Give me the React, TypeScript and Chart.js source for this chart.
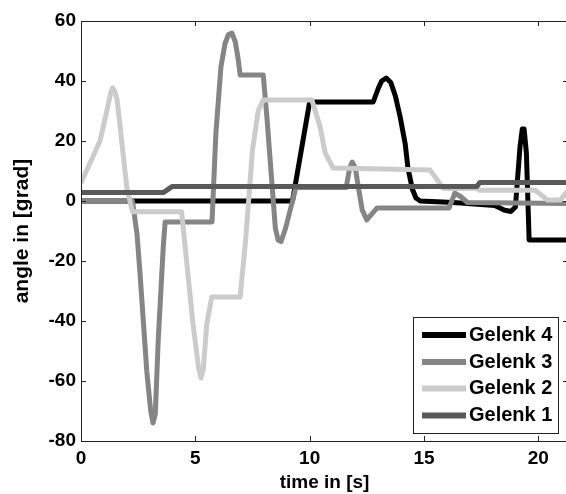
import React, { useEffect, useRef } from 'react';
import { Chart, registerables } from 'chart.js';

Chart.register(...registerables);

// ---- data (time in s, angle in grad) ----
const xTickValues = [0, 5, 10, 15, 20];
const yTickValues = [-80, -60, -40, -20, 0, 20, 40, 60];
const xMin = 0;
const xMax = 21.3;
const yMin = -80;
const yMax = 60;

const legendOrder = ['Gelenk 4', 'Gelenk 3', 'Gelenk 2', 'Gelenk 1'];

const gelenk4T = [0, 9.25, 10.0, 12.78, 13.0, 13.15, 13.35, 13.55, 13.75, 13.96, 14.18, 14.3, 14.49, 14.65, 14.84, 16.3, 18.1, 18.5, 18.8, 19.0, 19.2, 19.3, 19.38, 19.48, 19.6, 21.3];
const gelenk4V = [0, 0, 33, 33, 37.5, 40, 41, 39.5, 35, 28, 19, 11, 4, 1, 0, -0.5, -1.5, -3, -3.5, -2, 18, 24, 24, 16, -13, -13];

const gelenk3T = [0, 2.25, 2.45, 2.58, 2.88, 3.05, 3.15, 3.25, 3.38, 3.6, 3.68, 5.73, 5.9, 6.12, 6.3, 6.45, 6.6, 6.75, 6.88, 6.96, 7.97, 8.13, 8.35, 8.5, 8.62, 8.75, 8.95, 9.15, 9.4, 11.6, 11.75, 11.86, 12.0, 12.1, 12.3, 12.5, 12.95, 16.1, 16.35, 16.6, 16.9, 21.3];
const gelenk3V = [0, 0, -11, -24, -57, -70, -74, -71, -46, -15, -7, -7, 22.6, 44.7, 52.5, 55.5, 56, 53, 47, 42, 42, 28, 6, -9, -13, -13.5, -9, -3, 4.5, 4.5, 11, 13, 11, 6, -3, -6.3, -2.3, -2.3, 2.6, 1.5, -0.5, -0.8];

const gelenk2T = [0, 0.83, 1.13, 1.3, 1.39, 1.48, 1.58, 1.78, 2.0, 2.25, 4.4, 4.55, 4.9, 5.15, 5.25, 5.35, 5.5, 5.72, 6.96, 7.2, 7.5, 7.75, 7.97, 10.1, 10.46, 10.68, 11.03, 15.27, 15.85, 17.3, 17.45, 19.87, 20.4, 20.96, 21.3];
const gelenk2V = [6, 20, 30, 36, 37.7, 36.5, 33.7, 20, 4.7, -3.6, -3.6, -15, -41, -56, -59, -56, -41, -32, -32, -13, 17, 30, 33.7, 33.7, 24.7, 16, 11, 10.3, 4.2, 4.2, 3.6, 3.6, 0.3, 0.3, 3.5];

const gelenk1T = [0, 3.6, 3.98, 17.3, 17.45, 21.3];
const gelenk1V = [2.8, 2.8, 4.8, 4.8, 6.2, 6.2];

const seriesColors: Record<string, string> = {
  'Gelenk 4': '#000000',
  'Gelenk 3': '#858585',
  'Gelenk 2': '#cbcbcb',
  'Gelenk 1': '#595959',
};

const toPoints = (t: number[], v: number[]) => t.map((x, i) => ({ x, y: v[i] }));

const FONT_FAMILY = '"Liberation Sans", Arial, Helvetica, sans-serif';

const framePlugin = {
  id: 'matlabFrame',
  afterDatasetsDraw(chart: any) {
    const { ctx, chartArea } = chart;
    const { left, right, top, bottom } = chartArea;
    const xs = chart.scales.x;
    const ys = chart.scales.y;
    ctx.save();
    ctx.strokeStyle = '#222';
    ctx.lineWidth = 1;
    ctx.beginPath();
    ctx.rect(Math.round(left) + 0.5, Math.round(top) + 0.5, Math.round(right - left), Math.round(bottom - top));
    ctx.stroke();
    const tl = 5;
    ctx.beginPath();
    xTickValues.forEach((v) => {
      const px = Math.round(xs.getPixelForValue(v)) + 0.5;
      ctx.moveTo(px, bottom);
      ctx.lineTo(px, bottom - tl);
      ctx.moveTo(px, top);
      ctx.lineTo(px, top + tl);
    });
    yTickValues.forEach((v) => {
      const py = Math.round(ys.getPixelForValue(v)) + 0.5;
      ctx.moveTo(left, py);
      ctx.lineTo(left + tl, py);
      ctx.moveTo(right, py);
      ctx.lineTo(right - tl, py);
    });
    ctx.stroke();
    ctx.restore();
  },
};

const legendPlugin = {
  id: 'insideLegend',
  afterDraw(chart: any) {
    const { ctx } = chart;
    const boxL = 413, boxT = 317, boxR = 558, boxB = 433;
    ctx.save();
    ctx.fillStyle = '#ffffff';
    ctx.fillRect(boxL, boxT, boxR - boxL, boxB - boxT);
    ctx.strokeStyle = '#222';
    ctx.lineWidth = 1;
    ctx.strokeRect(boxL + 0.5, boxT + 0.5, boxR - boxL, boxB - boxT);
    const rowY = [335, 362, 388.5, 415.5];
    ctx.font = `bold 20px ${FONT_FAMILY}`;
    ctx.textBaseline = 'middle';
    ctx.textAlign = 'left';
    legendOrder.forEach((label, i) => {
      const ds = chart.data.datasets.find((d: any) => d.label === label);
      const y = rowY[i];
      ctx.strokeStyle = ds ? ds.borderColor : '#000';
      ctx.lineWidth = 6;
      ctx.lineCap = 'butt';
      ctx.beginPath();
      ctx.moveTo(422, y);
      ctx.lineTo(466, y);
      ctx.stroke();
      ctx.fillStyle = '#000';
      ctx.fillText(label, 469, y);
    });
    ctx.restore();
  },
};

export default function App() {
  const canvasRef = useRef<HTMLCanvasElement | null>(null);

  useEffect(() => {
    const canvas = canvasRef.current;
    if (!canvas) return;
    const mk = (label: string, t: number[], v: number[]) => ({
      label,
      data: toPoints(t, v),
      borderColor: seriesColors[label],
      backgroundColor: seriesColors[label],
      borderWidth: 5,
      pointRadius: 0,
      pointHoverRadius: 0,
      tension: 0,
      fill: false,
      borderJoinStyle: 'round' as const,
      borderCapStyle: 'butt' as const,
    });
    // index 0 is drawn on top in Chart.js, so Gelenk 1 comes first
    const chart = new Chart(canvas, {
      type: 'line',
      data: {
        datasets: [
          mk('Gelenk 1', gelenk1T, gelenk1V),
          mk('Gelenk 2', gelenk2T, gelenk2V),
          mk('Gelenk 3', gelenk3T, gelenk3V),
          mk('Gelenk 4', gelenk4T, gelenk4V),
        ],
      },
      options: {
        animation: false,
        responsive: false,
        devicePixelRatio: 1,
        layout: { padding: { left: 0, top: 21, right: 2, bottom: 0 } },
        plugins: {
          legend: { display: false },
          tooltip: { enabled: false },
        },
        scales: {
          x: {
            type: 'linear',
            min: xMin,
            max: xMax,
            grid: { display: false, drawTicks: false },
            border: { display: false },
            ticks: {
              stepSize: 5,
              includeBounds: false,
              maxRotation: 0,
              padding: 6,
              color: '#000',
              font: { family: FONT_FAMILY, size: 19, weight: 'bold' },
            },
            title: {
              display: true,
              text: 'time in [s]',
              color: '#000',
              font: { family: FONT_FAMILY, size: 19, weight: 'bold' },
              padding: { top: 0, bottom: 0 },
            },
            afterFit: (s: any) => {
              s.height = 53;
            },
          },
          y: {
            type: 'linear',
            min: yMin,
            max: yMax,
            grid: { display: false, drawTicks: false },
            border: { display: false },
            ticks: {
              stepSize: 20,
              padding: 5,
              color: '#000',
              font: { family: FONT_FAMILY, size: 19, weight: 'bold' },
            },
            title: {
              display: true,
              text: 'angle in [grad]',
              color: '#000',
              font: { family: FONT_FAMILY, size: 21, weight: 'bold' },
              padding: { top: 10, bottom: 0 },
            },
            afterFit: (s: any) => {
              s.width = 81;
            },
          },
        },
      },
      plugins: [framePlugin, legendPlugin],
    });
    return () => chart.destroy();
  }, []);

  return (
    <div style={{ position: 'absolute', left: 0, top: 0, width: 566, height: 494, overflow: 'hidden', background: '#fff' }}>
      <canvas ref={canvasRef} width={570} height={494} style={{ width: 570, height: 494, display: 'block' }} />
    </div>
  );
}
